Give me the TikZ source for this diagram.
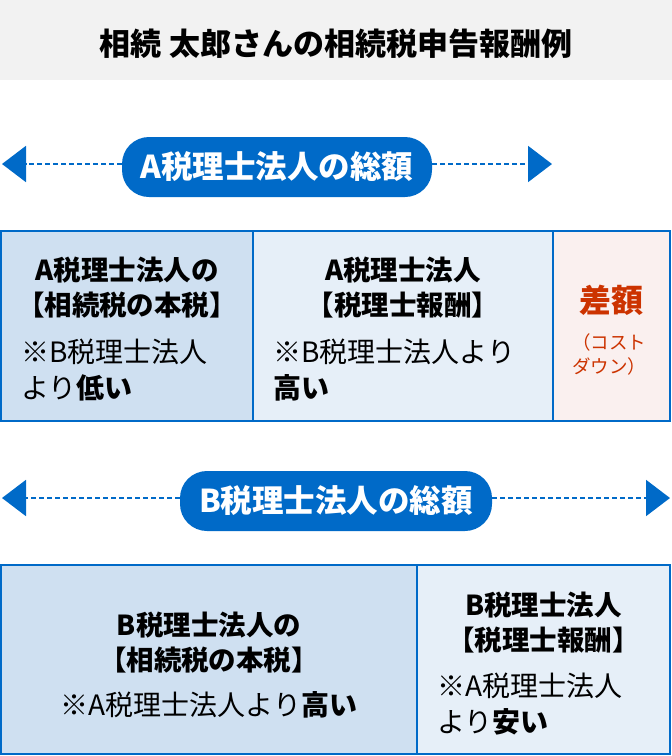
\documentclass[tikz,border=0pt]{standalone}
\usepackage{fontspec}
\setmainfont{Noto Sans CJK JP}
\usetikzlibrary{arrows.meta}

\definecolor{mainblue}{RGB}{0,106,200}
\definecolor{titlegray}{RGB}{242,242,242}
\definecolor{basefill}{RGB}{207,224,241}
\definecolor{feefill}{RGB}{230,239,248}
\definecolor{difffill}{RGB}{250,240,239}
\definecolor{diffred}{RGB}{204,51,0}

\tikzset{
  cell/.style={draw=mainblue, line width=2.5pt, inner sep=0pt},
  totalpill/.style={fill=mainblue, rounded corners=27pt, minimum width=310pt,
    minimum height=60pt, text=white, font=\bfseries\fontsize{31.5pt}{31.5pt}\selectfont},
  titletext/.style={font=\bfseries\fontsize{31pt}{31pt}\selectfont, inner sep=0pt},
  headtext/.style={align=center, font=\bfseries\fontsize{27.5pt}{35pt}\selectfont, inner sep=0pt},
  notetext/.style={align=left, font=\fontsize{28pt}{36pt}\selectfont, inner sep=0pt},
  spanline/.style={mainblue, line width=2pt, dash pattern=on 5pt off 3pt,
    -{Triangle[length=24pt,width=36pt]}},
}

\begin{document}
\begin{tikzpicture}[x=1pt,y=-1pt]
  \useasboundingbox (0,0) rectangle (672,756);

  % Title band
  \fill[titlegray] (0,0) rectangle (672,80);
  \node[titletext] (title) at (336,44) {相続 太郎さんの相続税申告報酬例};

  % A total
  \coordinate (aleft) at (2,164);
  \coordinate (aright) at (552,164);
  \node[totalpill] (atotal) at (277,167) {A税理士法人の総額};
  \draw[spanline] (atotal.west |- aleft) -- (aleft);
  \draw[spanline] (atotal.east |- aright) -- (aright);

  % A boxes
  \node[cell, fill=basefill, minimum width=252pt, minimum height=190pt] (abase) at (127,326) {};
  \node[cell, fill=feefill, minimum width=300pt, minimum height=190pt] (afee) at (403,326) {};
  \node[cell, fill=difffill, minimum width=117pt, minimum height=190pt] (adiff) at (611.5,326) {};

  \node[headtext] (abasehead) at (127,288) {A税理士法人の\\【相続税の本税】};
  \node[notetext, anchor=west] (abasenote) at (21,370) {※B税理士法人\\より\textbf{低い}};
  \node[headtext] (afeehead) at (403,288) {A税理士法人\\【税理士報酬】};
  \node[notetext, anchor=west] (afeenote) at (273,370) {※B税理士法人より\\\textbf{高い}};
  \node[text=diffred, font=\bfseries\fontsize{32pt}{32pt}\selectfont, inner sep=0pt]
    (adiffhead) at (611.5,300) {差額};
  \node[text=diffred, align=center, font=\fontsize{18.5pt}{24pt}\selectfont, inner sep=0pt]
    (adiffnote) at (609,354) {（コスト\\ダウン）};

  % B total
  \coordinate (bleft) at (2,498);
  \coordinate (bright) at (670,498);
  \node[totalpill, minimum width=312pt] (btotal) at (336,501) {B税理士法人の総額};
  \draw[spanline] (btotal.west |- bleft) -- (bleft);
  \draw[spanline] (btotal.east |- bright) -- (bright);

  % B boxes
  \node[cell, fill=basefill, minimum width=416pt, minimum height=189pt] (bbase) at (209,659.5) {};
  \node[cell, fill=feefill, minimum width=253pt, minimum height=189pt] (bfee) at (543.5,659.5) {};

  \node[headtext] (bbasehead) at (209,643) {B税理士法人の\\【相続税の本税】};
  \node[notetext] (bbasenote) at (209,705) {※A税理士法人より\textbf{高い}};
  \node[headtext] (bfeehead) at (543.5,623) {B税理士法人\\【税理士報酬】};
  \node[notetext, anchor=west] (bfeenote) at (437,704) {※A税理士法人\\より\textbf{安い}};
\end{tikzpicture}
\end{document}
